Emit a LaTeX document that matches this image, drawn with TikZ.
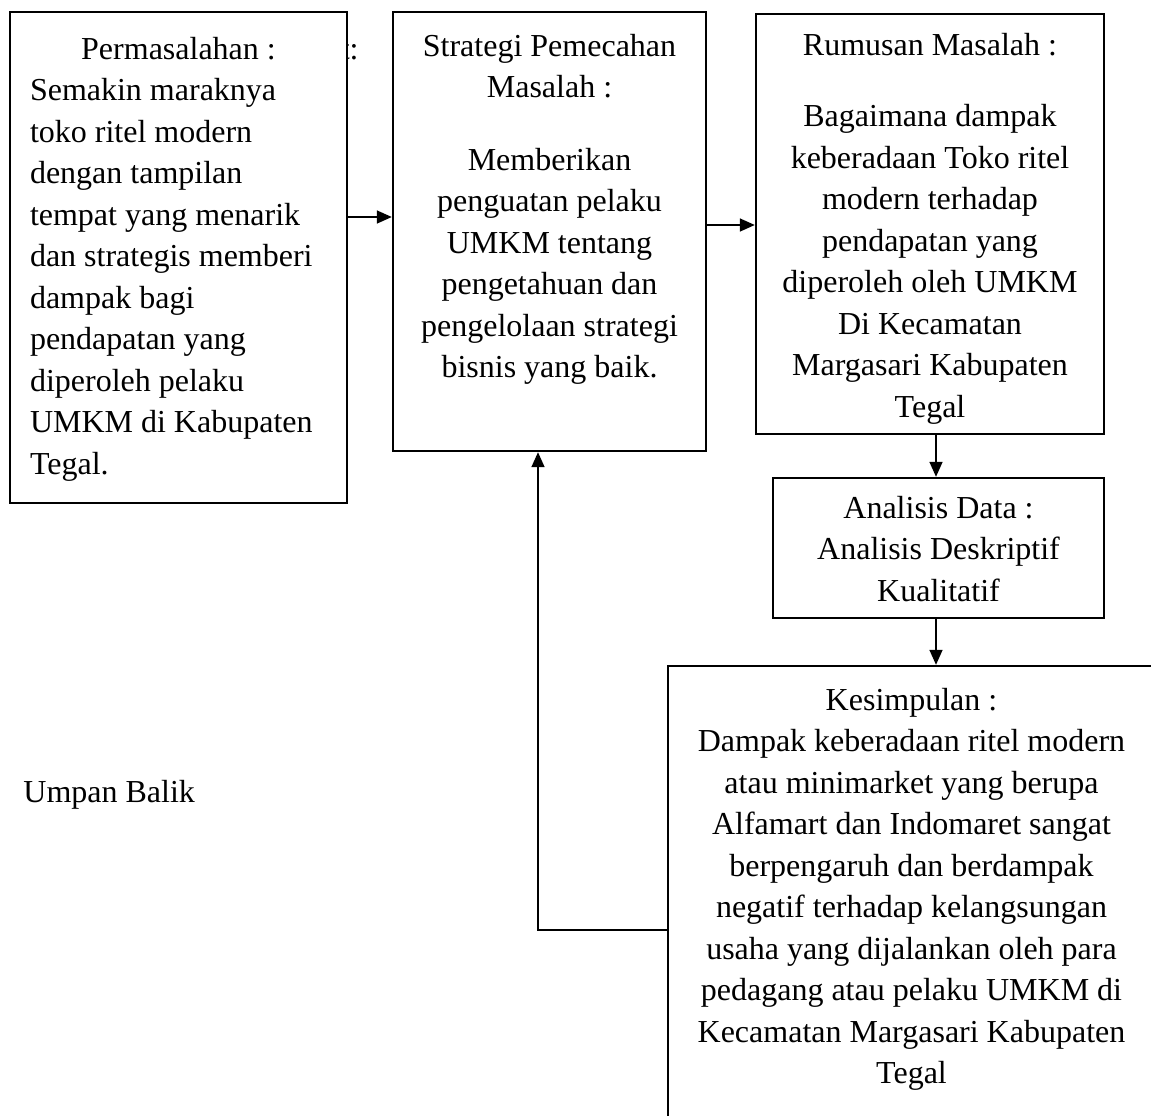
\documentclass[tikz,border=0pt]{standalone}
\usepackage{fontspec}
\setmainfont{Liberation Serif}
\usetikzlibrary{positioning,arrows.meta}

\begin{document}
\begin{tikzpicture}[
    x=0.5pt, y=-0.5pt,
    box/.style={draw=black, line width=1.2pt, fill=white, inner sep=0pt},
    txt/.style={font=\fontsize{16}{20.75}\selectfont, inner sep=0pt, align=center, anchor=north},
    arr/.style={-{Triangle[length=7.5pt,width=6.5pt]}, line width=0.8pt, black},
]
\useasboundingbox (0,0) rectangle (1151,1115);
\clip (0,0) rectangle (1151,1115);

% Leftover text, mostly hidden by the first box
\node[txt, anchor=base east] (sisa) at (359,59) {t:};

% === Box 1: Permasalahan ===
\node[box, minimum width=168.5pt, minimum height=245.5pt] (masalah) at (178.5,257.5) {};
\node[txt, align=flush left, text width=148.5pt, below=13pt of masalah.north] (masalahtxt)
    {\makebox[\linewidth]{Permasalahan :}\\
     Semakin maraknya\\ toko ritel modern\\ dengan tampilan\\
     tempat yang menarik\\ dan strategis memberi\\ dampak bagi\\
     pendapatan yang\\ diperoleh pelaku\\ UMKM di Kabupaten\\ Tegal.};

% === Box 2: Strategi ===
\node[box, minimum width=156.5pt, minimum height=219.5pt] (strategi) at (549.5,231.5) {};
\node[txt, below=11.5pt of strategi.north] (strategitxt)
    {Strategi Pemecahan\\ Masalah :\\[15.5pt]
     Memberikan\\ penguatan pelaku\\ UMKM tentang\\ pengetahuan dan\\
     pengelolaan strategi\\ bisnis yang baik.};

% === Box 3: Rumusan ===
\node[box, minimum width=174pt, minimum height=210pt] (rumusan) at (930,224) {};
\node[txt, below=10pt of rumusan.north] (rumusantxt)
    {Rumusan Masalah :\\[15pt]
     Bagaimana dampak\\ keberadaan Toko ritel\\ modern terhadap\\
     pendapatan yang\\ diperoleh oleh UMKM\\ Di Kecamatan\\
     Margasari Kabupaten\\ Tegal};

% === Box 4: Analisis ===
\node[box, minimum width=165.5pt, minimum height=70pt] (analisis) at (938.5,548) {};
\node[txt, below=9.5pt of analisis.north] (analisistxt)
    {Analisis Data :\\ Analisis Deskriptif\\ Kualitatif};

% === Box 5: Kesimpulan (runs off the page) ===
\node[box, minimum width=243.5pt, minimum height=234.5pt] (kesimpulan) at (911.5,900.5) {};
\node[txt, below=11.5pt of kesimpulan.north] (kesimpulantxt)
    {Kesimpulan :\\ Dampak keberadaan ritel modern\\ atau minimarket yang berupa\\
     Alfamart dan Indomaret sangat\\ berpengaruh dan berdampak\\
     negatif terhadap kelangsungan\\ usaha yang dijalankan oleh para\\
     pedagang atau pelaku UMKM di\\ Kecamatan Margasari Kabupaten\\ Tegal};

% Feedback label
\node[txt, anchor=base west] (umpan) at (23,802) {Umpan Balik};

% === Arrows ===
\draw[arr] ([yshift=20.25pt]masalah.east) -- ([yshift=20.25pt]masalah.east -| strategi.west);
\draw[arr] ([yshift=3.25pt]strategi.east) -- ([yshift=3.25pt]strategi.east -| rumusan.west);
\draw[arr] ([xshift=3pt]rumusan.south) -- ([xshift=3pt]rumusan.south |- analisis.north);
\draw[arr] ([xshift=-1.25pt]analisis.south) -- ([xshift=-1.25pt]analisis.south |- kesimpulan.north);
% feedback loop
\draw[arr] ([yshift=-14.75pt]kesimpulan.west) -| ([xshift=-5.75pt]strategi.south);

\end{tikzpicture}
\end{document}
